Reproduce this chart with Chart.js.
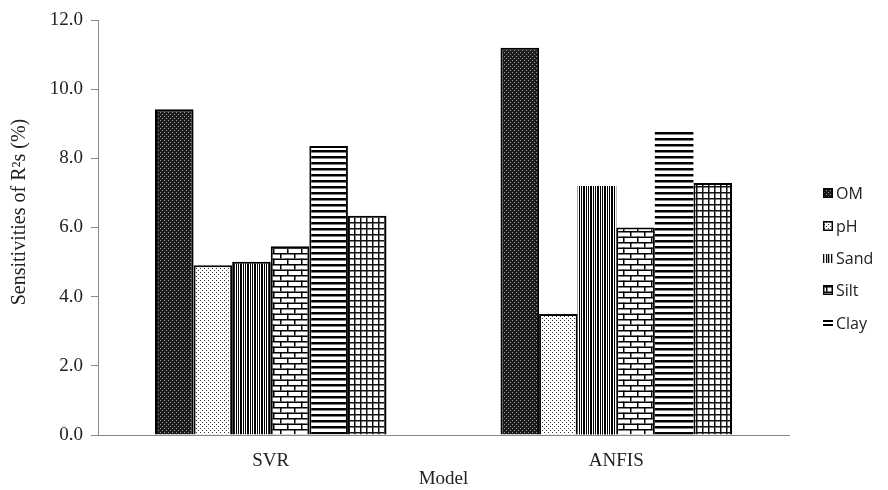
<!DOCTYPE html>
<html>
<head>
<meta charset="utf-8">
<script src="https://cdn.jsdelivr.net/npm/chart.js@4/dist/chart.umd.min.js"></script>
<style>
  html, body { margin: 0; padding: 0; background: #fff; }
  #wrap { width: 888px; height: 490px; position: relative; }
</style>
</head>
<body>
<div id="wrap"><canvas id="graph"></canvas></div>
<script>
// datos
const categories = ['SVR', 'ANFIS'];
const seriesNames = ['OM', 'pH', 'Sand', 'Silt', 'Clay', ''];
const omValues = [9.42, 11.2];
const phValues = [4.91, 3.50];
const sandValues = [5.01, 7.20];
const siltValues = [5.46, 6.00];
const clayValues = [8.36, 8.81];
const series6Values = [6.34, 7.29];
const yTicks = [0, 2, 4, 6, 8, 10, 12];
const yTitle = 'Sensitivities of R\u00B2s (%)';

const ctx = document.getElementById('graph').getContext('2d');

// crea un patron de relleno a partir de un canvas pequeño
function makePattern(w, h, draw) {
    const c = document.createElement('canvas');
    c.width = w; c.height = h;
    const g = c.getContext('2d');
    g.fillStyle = '#fff';
    g.fillRect(0, 0, w, h);
    draw(g);
    return ctx.createPattern(c, 'repeat');
}

const patOM = makePattern(4, 4, g => {
    g.fillStyle = '#1c1c1c'; g.fillRect(0, 0, 4, 4);
    g.fillStyle = '#9a9a9a'; g.fillRect(0, 0, 1, 1); g.fillRect(2, 2, 1, 1);
});
const patPH = makePattern(4, 4, g => {
    g.fillStyle = '#333'; g.fillRect(0, 0, 1, 1); g.fillRect(2, 2, 1, 1);
});
const patSand = makePattern(7, 4, g => {
    g.fillStyle = '#000';
    g.fillRect(0, 0, 1, 4); g.fillRect(2, 0, 2, 4); g.fillRect(5, 0, 1, 4);
});
const patSilt = makePattern(14, 11, g => {
    g.fillStyle = '#000';
    g.fillRect(0, 0, 14, 1.5); g.fillRect(0, 5.5, 14, 1.5);
    g.fillRect(0, 0, 1.5, 5.5); g.fillRect(7, 5.5, 1.5, 5.5);
});
const patClay = makePattern(4, 6, g => {
    g.fillStyle = '#000'; g.fillRect(0, 0, 4, 2.5);
});
const patGrid = makePattern(6, 6, g => {
    g.fillStyle = '#111'; g.fillRect(0, 0, 1.5, 6); g.fillRect(0, 0, 6, 1.5);
});

const chartData = {
    labels: categories,
    datasets: [
        { label: seriesNames[0], data: omValues, backgroundColor: patOM, borderColor: '#000', borderWidth: 2 },
        { label: seriesNames[1], data: phValues, backgroundColor: patPH, borderColor: '#000', borderWidth: 2 },
        { label: seriesNames[2], data: sandValues, backgroundColor: patSand, borderColor: '#000', borderWidth: [2, 0] },
        { label: seriesNames[3], data: siltValues, backgroundColor: patSilt, borderColor: '#000', borderWidth: 2 },
        { label: seriesNames[4], data: clayValues, backgroundColor: patClay, borderColor: '#000', borderWidth: [2, 0] },
        { label: seriesNames[5], data: series6Values, backgroundColor: patGrid, borderColor: '#000', borderWidth: 2 }
    ]
};

// leyenda a la derecha y titulo del eje Y, dibujados a mano
const legendPlugin = {
    id: 'sideLegend',
    afterDraw(chart) {
        const c = chart.ctx;
        const x = 823, ys = [193, 226, 258, 290, 323];
        c.save();
        c.font = '16px "Open Sans"';
        c.textBaseline = 'middle';
        for (let i = 0; i < 5; i++) {
            const ds = chart.data.datasets[i];
            const y = ys[i];
            if (i === 2) {
                c.fillStyle = '#000';
                [0, 3, 5, 8].forEach(dx => c.fillRect(x + dx, y - 4, 1.3, 9));
            } else if (i === 4) {
                c.fillStyle = '#000';
                c.fillRect(x, y - 3, 10, 2);
                c.fillRect(x, y + 1, 10, 2);
            } else {
                c.fillStyle = ds.backgroundColor;
                c.fillRect(x, y - 5, 10, 10);
                c.strokeStyle = '#000';
                c.lineWidth = 1.5;
                c.strokeRect(x + 0.75, y - 4.25, 8.5, 8.5);
            }
            c.fillStyle = '#222';
            c.fillText(ds.label, x + 13, y + 1);
        }
        // titulo Y
        c.translate(20, 212);
        c.rotate(-Math.PI / 2);
        c.font = '20px "Liberation Serif"';
        c.textAlign = 'center';
        c.fillStyle = '#222';
        c.fillText(yTitle, 0, 0);
        c.restore();
    }
};

new Chart(ctx, {
    type: 'bar',
    data: chartData,
    options: {
        responsive: true,
        maintainAspectRatio: false,
        animation: false,
        layout: { padding: { top: 20, right: 99, left: 0, bottom: 0 } },
        datasets: { bar: { categoryPercentage: 0.67, barPercentage: 1.0 } },
        scales: {
            x: {
                afterFit: axis => { axis.height = 55; },
                grid: { display: false },
                border: { color: '#8a8a8a', width: 1 },
                ticks: { color: '#222', padding: 7, font: { family: 'Liberation Serif', size: 19 } },
                title: { display: true, text: 'Model', color: '#222', padding: { top: 0, bottom: 0 },
                         font: { family: 'Liberation Serif', size: 19 } }
            },
            y: {
                min: 0, max: 12,
                afterFit: axis => { axis.width = 98; },
                afterBuildTicks: axis => { axis.ticks = yTicks.map(v => ({ value: v })); },
                grid: { drawOnChartArea: false, drawTicks: true, tickLength: 7, color: '#8a8a8a' },
                border: { color: '#8a8a8a', width: 1 },
                ticks: { color: '#222', padding: 8, font: { family: 'Liberation Serif', size: 19 },
                         callback: v => v.toFixed(1) }
            }
        },
        plugins: {
            legend: { display: false },
            tooltip: { enabled: false }
        }
    },
    plugins: [legendPlugin]
});
</script>
</body>
</html>
